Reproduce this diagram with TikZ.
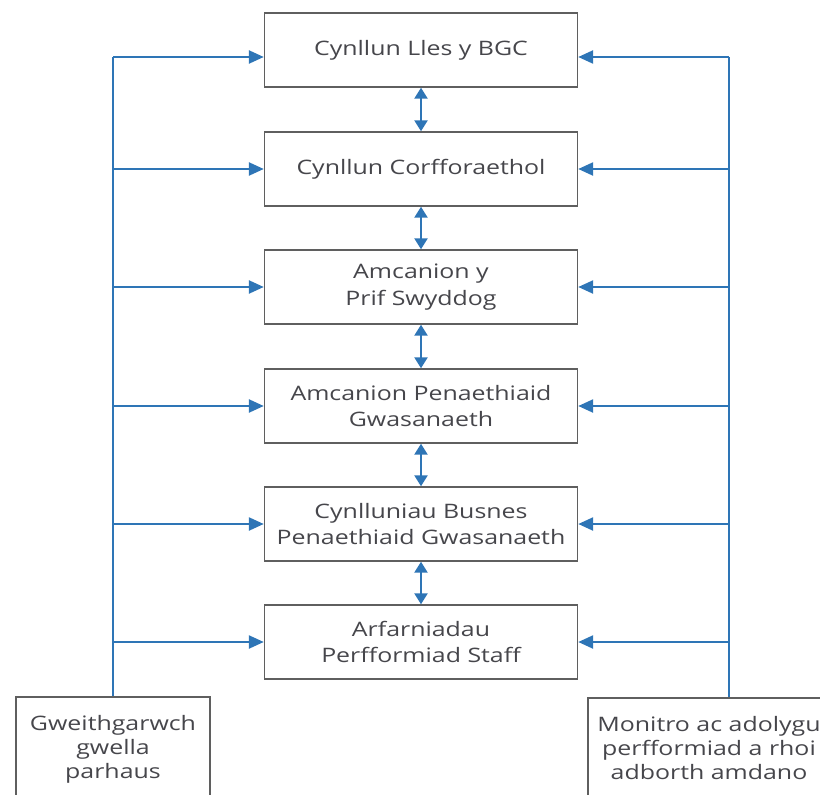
\documentclass[tikz,border=0pt]{standalone}
\usepackage{fontspec}
\setmainfont{Open Sans}
\newfontfamily\widefont[FakeStretch=1.25]{Open Sans}
\usetikzlibrary{arrows.meta}
\definecolor{arrowblue}{RGB}{46,117,182}
\definecolor{boxgray}{RGB}{95,95,95}
\definecolor{txtgray}{RGB}{70,70,75}
\begin{document}
\begin{tikzpicture}[x=1bp,y=-1bp,
  box/.style={draw=boxgray,line width=1.4bp,minimum width=313bp,minimum height=74bp,align=center,text=txtgray,font=\widefont\fontsize{20}{27}\selectfont,inner sep=0pt},
  sidebox/.style={draw=boxgray,line width=1.4bp,align=center,text=txtgray,font=\widefont\fontsize{20}{24}\selectfont,inner sep=0pt},
  conn/.style={draw=arrowblue,line width=2.4bp,-{Triangle[length=15bp,width=13bp]}},
  line/.style={draw=arrowblue,line width=2.4bp},
  dconn/.style={draw=arrowblue,line width=2.4bp,{Triangle[length=11bp,width=13bp]}-{Triangle[length=11bp,width=13bp]}}]
\useasboundingbox (0,0) rectangle (820,795);
\clip (0,0) rectangle (820,795);
\node[box] (b1) at (421,50) {Cynllun Lles y BGC};
\node[box] (b2) at (421,169) {Cynllun Corfforaethol};
\node[box] (b3) at (421,287) {Amcanion y\\Prif Swyddog};
\node[box] (b4) at (421,406) {Amcanion Penaethiaid\\Gwasanaeth};
\node[box] (b5) at (421,524) {Cynlluniau Busnes\\Penaethiaid Gwasanaeth};
\node[box] (b6) at (421,642) {Arfarniadau\\Perfformiad Staff};
\node[sidebox,minimum width=194bp,minimum height=104bp] (lb) at (113,749) {Gweithgarwch\\gwella\\parhaus};
\node[sidebox,minimum width=242bp,minimum height=100bp] (rb) at (709,748) {Monitro ac adolygu\\perfformiad a rhoi\\adborth amdano};
\coordinate (L1) at (113,57);
\coordinate (R1) at (729,57);
\foreach \b in {2,...,6} {
  \coordinate (L\b) at (L1 |- b\b.center);
  \coordinate (R\b) at (R1 |- b\b.center);
}
\draw[line] (L1) -- (L1 |- lb.north);
\draw[line] (R1) -- (R1 |- rb.north);
\foreach \b in {1,...,6} {
  \draw[conn] (L\b) -- (L\b -| b\b.west);
  \draw[conn] (R\b) -- (R\b -| b\b.east);
}
\draw[dconn] (b1.south) -- (b2.north);
\draw[dconn] (b2.south) -- (b3.north);
\draw[dconn] (b3.south) -- (b4.north);
\draw[dconn] (b4.south) -- (b5.north);
\draw[dconn] (b5.south) -- (b6.north);
\end{tikzpicture}
\end{document}
